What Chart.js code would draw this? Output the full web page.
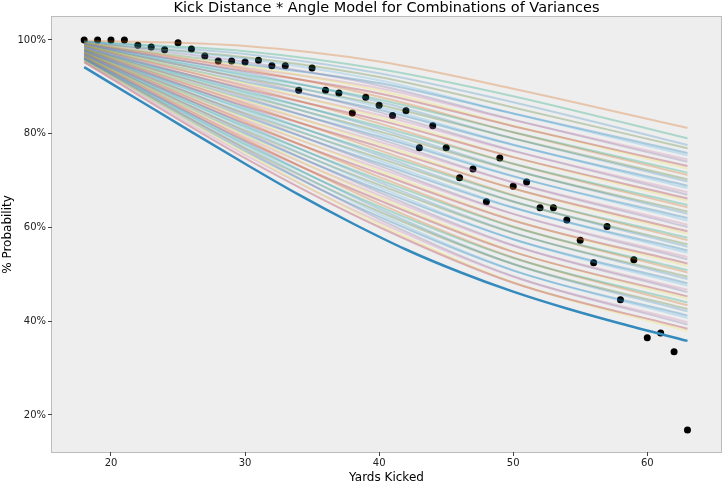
<!DOCTYPE html>
<html>
<head>
<meta charset="utf-8">
<script src="https://cdn.jsdelivr.net/npm/chart.js@4.4.1/dist/chart.umd.min.js"></script>
<style>
  html, body { margin: 0; padding: 0; background: #fff; }
  canvas { display: block; }
</style>
</head>
<body>
<canvas id="chart" width="722" height="481"></canvas>
<script>
// observed make rate per kick distance (%)
const kickYards = [18, 19, 20, 21, 22, 23, 24, 25, 26, 27, 28, 29, 30, 31, 32, 33, 34, 35, 36, 37, 38, 39, 40,
  41, 42, 43, 44, 45, 46, 47, 48, 49, 50, 51, 52, 53, 54, 55, 56, 57, 58, 59, 60, 61, 62, 63];
const kickRates = [100, 100, 100, 100, 98.9, 98.5, 97.9, 99.4, 98.1, 96.6, 95.5, 95.5, 95.3, 95.7, 94.5, 94.5, 89.3, 94.0, 89.3, 88.7, 84.4, 87.8, 86.1,
  83.9, 84.9, 77.0, 81.7, 77.0, 70.6, 72.5, 65.5, 74.8, 68.8, 69.7, 64.2, 64.2, 61.6, 57.3, 52.5, 60.2, 44.6, 53.1, 36.5, 37.5, 33.5, 16.8];

// the solid blue model curve
const modelYards = [18, 22, 26, 30, 34, 38, 42, 46, 50, 54, 58, 63];
const modelRates = [94.2, 87.3, 80.4, 73.6, 67.0, 60.9, 55.3, 50.5, 46.3, 42.7, 39.5, 35.8];

// faint curves (one per variance combination), read at these distances
const knotYards = [18, 30, 40, 50, 63];
const at18 = [95.2, 95.6, 95.4, 95.9, 95.6, 96.1, 95.8, 96.2, 95.9, 96.4,
  96.0, 96.5, 96.2, 96.7, 96.3, 96.8, 96.5, 97.0, 96.6, 97.2,
  96.8, 97.3, 96.9, 97.5, 97.1, 97.6, 97.2, 97.8, 97.4, 97.9,
  97.5, 98.1, 97.6, 98.2, 97.8, 98.4, 97.9, 98.5, 98.1, 98.7,
  98.2, 98.8, 98.4, 99.0, 98.5, 99.1, 98.7, 99.2, 98.8, 99.3,
  99.0, 99.4, 99.1, 99.5, 99.2, 99.6, 99.4, 99.7, 99.6, 99.9];
const at30 = [74.8, 76.0, 75.5, 76.7, 76.3, 77.5, 77.0, 78.2, 77.8, 78.9,
  78.5, 79.7, 79.3, 80.4, 80.0, 81.2, 80.7, 81.9, 81.5, 82.6,
  82.2, 83.4, 83.0, 84.1, 83.7, 84.9, 84.4, 85.6, 85.2, 86.4,
  85.9, 87.1, 86.7, 87.8, 87.4, 88.6, 88.2, 89.3, 88.9, 90.1,
  89.6, 90.8, 90.4, 91.6, 91.1, 92.3, 91.9, 93.0, 92.6, 93.8,
  93.4, 94.5, 94.1, 95.3, 94.8, 96.0, 96.3, 97.0, 97.6, 98.7];
const at40 = [60.1, 60.7, 61.2, 61.8, 62.3, 62.9, 63.4, 64.0, 64.5, 65.1,
  65.8, 66.4, 66.9, 67.5, 68.0, 68.6, 69.1, 69.7, 70.2, 70.8,
  71.5, 72.1, 72.6, 73.2, 73.7, 74.3, 74.8, 75.4, 75.9, 76.5,
  77.2, 77.8, 78.3, 78.9, 79.4, 80.0, 80.5, 81.1, 81.6, 82.2,
  82.9, 83.5, 84.0, 84.6, 85.1, 85.7, 86.2, 86.8, 87.3, 87.9,
  88.6, 89.2, 89.7, 90.3, 90.8, 91.4, 92.1, 92.9, 93.8, 95.4];
const at50 = [48.2, 48.3, 49.5, 49.6, 50.8, 50.9, 52.2, 52.2, 53.5, 53.6,
  54.8, 54.9, 56.1, 56.2, 57.5, 57.5, 58.8, 58.9, 60.1, 60.2,
  61.5, 61.6, 62.9, 62.9, 64.2, 64.3, 65.5, 65.6, 66.8, 66.9,
  68.3, 68.3, 69.6, 69.6, 70.9, 71.0, 72.2, 72.3, 73.6, 73.6,
  75.0, 75.0, 76.3, 76.4, 77.6, 77.7, 79.0, 79.0, 80.3, 80.3,
  81.6, 81.7, 82.9, 83.0, 84.3, 84.3, 85.6, 86.7, 88.0, 89.6];
const at63 = [38.4, 37.9, 39.8, 39.3, 41.2, 40.7, 42.6, 42.1, 44.0, 43.4,
  45.3, 44.8, 46.7, 46.2, 48.1, 47.6, 49.5, 49.0, 50.9, 50.4,
  52.3, 51.8, 53.7, 53.2, 55.1, 54.6, 56.4, 55.9, 57.8, 57.3,
  59.2, 58.7, 60.6, 60.1, 62.0, 61.5, 63.4, 62.9, 64.8, 64.3,
  66.2, 65.7, 67.5, 67.0, 68.9, 68.4, 70.3, 69.8, 71.7, 71.2,
  73.1, 72.6, 74.5, 74.0, 75.9, 75.4, 76.9, 77.6, 79.0, 81.2];

// axis ticks
const xTicks = [20, 30, 40, 50, 60];
const yTicks = [20, 40, 60, 80, 100];

const palette = ['#348ABD', '#A60628', '#7A68A6', '#467821', '#D55E00',
  '#CC79A7', '#56B4E9', '#009E73', '#F0E442', '#0072B2'];

function fade(hex, a) {
  const n = parseInt(hex.slice(1), 16);
  return `rgba(${(n >> 16) & 255}, ${(n >> 8) & 255}, ${n & 255}, ${a})`;
}

const columns = [at18, at30, at40, at50, at63];
const datasets = [];

// solid model line on top
datasets.push({
  data: modelYards.map((x, i) => ({ x, y: modelRates[i] })),
  borderColor: palette[0],
  borderWidth: 2.5,
  pointRadius: 0,
  cubicInterpolationMode: 'monotone',
  order: 0
});

at18.forEach((_, k) => {
  datasets.push({
    data: knotYards.map((x, j) => ({ x, y: columns[j][k] })),
    borderColor: fade(palette[(k * 7 + 1) % 10], 0.28),
    borderWidth: 2,
    pointRadius: 0,
    cubicInterpolationMode: 'monotone',
    order: 1
  });
});

// observed points under the curves
datasets.push({
  data: kickYards.map((x, i) => ({ x, y: kickRates[i] })),
  showLine: false,
  pointRadius: 3.5,
  pointBackgroundColor: '#000',
  pointBorderWidth: 0,
  order: 2
});

const font = 'DejaVu Sans';
const titleText = 'Kick Distance * Angle Model for Combinations of Variances';

const frame = {
  id: 'frame',
  beforeDraw(chart) {
    const { ctx, chartArea: a } = chart;
    ctx.save();
    ctx.fillStyle = '#fff';
    ctx.fillRect(0, 0, chart.width, chart.height);
    ctx.fillStyle = '#eeeeee';
    ctx.fillRect(a.left, a.top, a.right - a.left, a.bottom - a.top);
    ctx.strokeStyle = '#bcbcbc';
    ctx.lineWidth = 1;
    ctx.strokeRect(a.left - 0.5, a.top - 0.5, a.right - a.left + 1, a.bottom - a.top + 1);
    ctx.restore();
  },
  afterDraw(chart) {
    const { ctx, chartArea: a } = chart;
    ctx.save();
    ctx.fillStyle = '#000';
    ctx.font = `14.5px "${font}"`;
    ctx.textAlign = 'center';
    ctx.textBaseline = 'middle';
    ctx.fillText(titleText, (a.left + a.right) / 2, 8);
    ctx.restore();
  }
};

new Chart(document.getElementById('chart'), {
  type: 'line',
  data: { datasets },
  options: {
    responsive: false,
    animation: false,
    events: [],
    layout: { autoPadding: false, padding: { left: 0, right: 1, top: 17, bottom: 0 } },
    plugins: {
      legend: { display: false },
      tooltip: { enabled: false },
      title: { display: false }
    },
    scales: {
      x: {
        type: 'linear',
        min: 15.6,
        max: 65.5,
        afterBuildTicks(scale) { scale.ticks = xTicks.map(value => ({ value })); },
        afterFit(scale) {
          scale.height = 29;
          scale.paddingLeft = 0;
          scale.paddingRight = 0;
        },
        border: { display: false },
        grid: { drawOnChartArea: false, tickLength: 4, tickColor: '#444' },
        ticks: {
          padding: 1,
          color: '#222',
          font: { family: font, size: 10 }
        },
        title: {
          display: true,
          text: 'Yards Kicked',
          color: '#000',
          font: { family: font, size: 12, lineHeight: 1 },
          padding: { top: 0, bottom: -3 }
        }
      },
      y: {
        min: 12.1,
        max: 104.9,
        afterBuildTicks(scale) { scale.ticks = yTicks.map(value => ({ value })); },
        afterFit(scale) {
          scale.width = 52;
          scale.paddingTop = 0;
          scale.paddingBottom = 0;
        },
        border: { display: false },
        grid: { drawOnChartArea: false, tickLength: 4, tickColor: '#444' },
        ticks: {
          padding: 2,
          color: '#222',
          font: { family: font, size: 10 },
          callback: v => v + '%'
        },
        title: {
          display: true,
          text: '% Probability',
          color: '#000',
          font: { family: font, size: 12, lineHeight: 1.2 },
          padding: { top: 1, bottom: 0 }
        }
      }
    }
  },
  plugins: [frame]
});
</script>
</body>
</html>
